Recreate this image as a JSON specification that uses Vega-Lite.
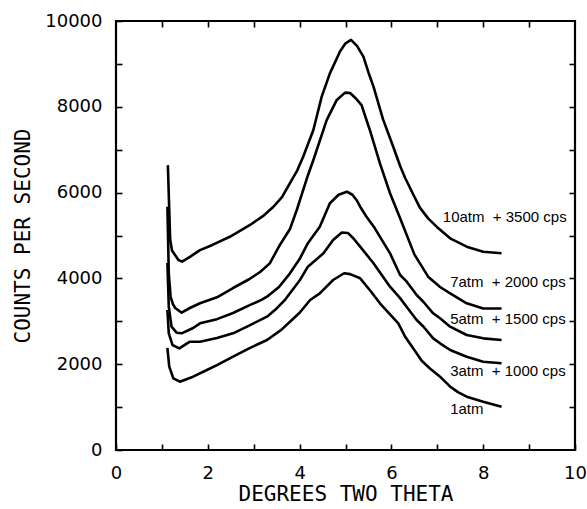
{
  "$schema": "https://vega.github.io/schema/vega-lite/v6.json",
  "width": 459,
  "height": 429,
  "autosize": {"type": "none"},
  "padding": {"left": 116, "top": 21, "right": 12, "bottom": 59},
  "background": "white",
  "config": {
    "view": {"stroke": "#000000", "strokeWidth": 2.2},
    "axis": {
      "grid": false,
      "domain": false,
      "ticks": true,
      "tickColor": "#000000",
      "tickWidth": 1.6,
      "tickSize": -6,
      "labelFont": "DejaVu Sans",
      "labelFontSize": 18,
      "labelColor": "black",
      "titleFont": "DejaVu Sans Mono",
      "titleFontSize": 21,
      "titleFontWeight": "normal",
      "titleColor": "black"
    }
  },
  "datasets": {
    "curves": [
      {"s": "10atm", "x": 1.13, "y": 6640}, {"s": "10atm", "x": 1.16, "y": 5600}, {"s": "10atm", "x": 1.18, "y": 4900}, {"s": "10atm", "x": 1.22, "y": 4650}, {"s": "10atm", "x": 1.29, "y": 4540}, {"s": "10atm", "x": 1.36, "y": 4430}, {"s": "10atm", "x": 1.44, "y": 4390}, {"s": "10atm", "x": 1.61, "y": 4500}, {"s": "10atm", "x": 1.83, "y": 4660}, {"s": "10atm", "x": 2.1, "y": 4780}, {"s": "10atm", "x": 2.48, "y": 4970}, {"s": "10atm", "x": 2.92, "y": 5245}, {"s": "10atm", "x": 3.2, "y": 5450}, {"s": "10atm", "x": 3.43, "y": 5670}, {"s": "10atm", "x": 3.62, "y": 5900}, {"s": "10atm", "x": 3.79, "y": 6220}, {"s": "10atm", "x": 3.95, "y": 6520}, {"s": "10atm", "x": 4.08, "y": 6840}, {"s": "10atm", "x": 4.3, "y": 7460}, {"s": "10atm", "x": 4.48, "y": 8230}, {"s": "10atm", "x": 4.66, "y": 8780}, {"s": "10atm", "x": 4.88, "y": 9290}, {"s": "10atm", "x": 5.0, "y": 9480}, {"s": "10atm", "x": 5.12, "y": 9560}, {"s": "10atm", "x": 5.25, "y": 9420}, {"s": "10atm", "x": 5.39, "y": 9170}, {"s": "10atm", "x": 5.5, "y": 8800}, {"s": "10atm", "x": 5.61, "y": 8470}, {"s": "10atm", "x": 5.82, "y": 7700}, {"s": "10atm", "x": 6.04, "y": 7070}, {"s": "10atm", "x": 6.19, "y": 6620}, {"s": "10atm", "x": 6.3, "y": 6340}, {"s": "10atm", "x": 6.48, "y": 5950}, {"s": "10atm", "x": 6.62, "y": 5650}, {"s": "10atm", "x": 6.8, "y": 5400}, {"s": "10atm", "x": 6.99, "y": 5200}, {"s": "10atm", "x": 7.28, "y": 4935}, {"s": "10atm", "x": 7.64, "y": 4740}, {"s": "10atm", "x": 8.0, "y": 4620}, {"s": "10atm", "x": 8.4, "y": 4585},
      {"s": "7atm", "x": 1.12, "y": 5670}, {"s": "7atm", "x": 1.15, "y": 4120}, {"s": "7atm", "x": 1.19, "y": 3570}, {"s": "7atm", "x": 1.24, "y": 3400}, {"s": "7atm", "x": 1.29, "y": 3310}, {"s": "7atm", "x": 1.43, "y": 3200}, {"s": "7atm", "x": 1.61, "y": 3310}, {"s": "7atm", "x": 1.83, "y": 3420}, {"s": "7atm", "x": 2.2, "y": 3560}, {"s": "7atm", "x": 2.55, "y": 3776}, {"s": "7atm", "x": 2.9, "y": 3980}, {"s": "7atm", "x": 3.14, "y": 4150}, {"s": "7atm", "x": 3.35, "y": 4350}, {"s": "7atm", "x": 3.57, "y": 4780}, {"s": "7atm", "x": 3.79, "y": 5150}, {"s": "7atm", "x": 3.94, "y": 5600}, {"s": "7atm", "x": 4.18, "y": 6400}, {"s": "7atm", "x": 4.3, "y": 6760}, {"s": "7atm", "x": 4.59, "y": 7690}, {"s": "7atm", "x": 4.81, "y": 8160}, {"s": "7atm", "x": 4.99, "y": 8330}, {"s": "7atm", "x": 5.1, "y": 8320}, {"s": "7atm", "x": 5.22, "y": 8200}, {"s": "7atm", "x": 5.35, "y": 8040}, {"s": "7atm", "x": 5.53, "y": 7460}, {"s": "7atm", "x": 5.75, "y": 6680}, {"s": "7atm", "x": 5.97, "y": 5984}, {"s": "7atm", "x": 6.19, "y": 5400}, {"s": "7atm", "x": 6.5, "y": 4560}, {"s": "7atm", "x": 6.8, "y": 4040}, {"s": "7atm", "x": 7.06, "y": 3800}, {"s": "7atm", "x": 7.28, "y": 3650}, {"s": "7atm", "x": 7.64, "y": 3420}, {"s": "7atm", "x": 8.0, "y": 3300}, {"s": "7atm", "x": 8.4, "y": 3300},
      {"s": "5atm", "x": 1.12, "y": 4360}, {"s": "5atm", "x": 1.15, "y": 3340}, {"s": "5atm", "x": 1.21, "y": 2875}, {"s": "5atm", "x": 1.32, "y": 2735}, {"s": "5atm", "x": 1.43, "y": 2720}, {"s": "5atm", "x": 1.68, "y": 2844}, {"s": "5atm", "x": 1.83, "y": 2953}, {"s": "5atm", "x": 2.2, "y": 3050}, {"s": "5atm", "x": 2.55, "y": 3193}, {"s": "5atm", "x": 2.9, "y": 3370}, {"s": "5atm", "x": 3.17, "y": 3500}, {"s": "5atm", "x": 3.29, "y": 3574}, {"s": "5atm", "x": 3.55, "y": 3800}, {"s": "5atm", "x": 3.79, "y": 4118}, {"s": "5atm", "x": 4.0, "y": 4450}, {"s": "5atm", "x": 4.18, "y": 4821}, {"s": "5atm", "x": 4.44, "y": 5205}, {"s": "5atm", "x": 4.66, "y": 5751}, {"s": "5atm", "x": 4.85, "y": 5950}, {"s": "5atm", "x": 5.03, "y": 6021}, {"s": "5atm", "x": 5.15, "y": 5950}, {"s": "5atm", "x": 5.24, "y": 5828}, {"s": "5atm", "x": 5.32, "y": 5671}, {"s": "5atm", "x": 5.45, "y": 5450}, {"s": "5atm", "x": 5.62, "y": 5200}, {"s": "5atm", "x": 5.97, "y": 4585}, {"s": "5atm", "x": 6.19, "y": 4079}, {"s": "5atm", "x": 6.33, "y": 3930}, {"s": "5atm", "x": 6.55, "y": 3613}, {"s": "5atm", "x": 6.7, "y": 3450}, {"s": "5atm", "x": 6.91, "y": 3186}, {"s": "5atm", "x": 7.06, "y": 3070}, {"s": "5atm", "x": 7.28, "y": 2875}, {"s": "5atm", "x": 7.64, "y": 2681}, {"s": "5atm", "x": 8.0, "y": 2603}, {"s": "5atm", "x": 8.4, "y": 2564},
      {"s": "3atm", "x": 1.12, "y": 3263}, {"s": "3atm", "x": 1.15, "y": 2720}, {"s": "3atm", "x": 1.23, "y": 2448}, {"s": "3atm", "x": 1.38, "y": 2370}, {"s": "3atm", "x": 1.61, "y": 2525}, {"s": "3atm", "x": 1.83, "y": 2525}, {"s": "3atm", "x": 2.2, "y": 2610}, {"s": "3atm", "x": 2.55, "y": 2720}, {"s": "3atm", "x": 2.9, "y": 2900}, {"s": "3atm", "x": 3.29, "y": 3108}, {"s": "3atm", "x": 3.5, "y": 3300}, {"s": "3atm", "x": 3.68, "y": 3497}, {"s": "3atm", "x": 3.79, "y": 3652}, {"s": "3atm", "x": 4.0, "y": 3950}, {"s": "3atm", "x": 4.18, "y": 4274}, {"s": "3atm", "x": 4.52, "y": 4585}, {"s": "3atm", "x": 4.73, "y": 4895}, {"s": "3atm", "x": 4.92, "y": 5070}, {"s": "3atm", "x": 5.05, "y": 5060}, {"s": "3atm", "x": 5.17, "y": 4935}, {"s": "3atm", "x": 5.35, "y": 4700}, {"s": "3atm", "x": 5.61, "y": 4352}, {"s": "3atm", "x": 5.97, "y": 3807}, {"s": "3atm", "x": 6.19, "y": 3540}, {"s": "3atm", "x": 6.33, "y": 3340}, {"s": "3atm", "x": 6.55, "y": 3030}, {"s": "3atm", "x": 6.7, "y": 2874}, {"s": "3atm", "x": 6.91, "y": 2603}, {"s": "3atm", "x": 7.06, "y": 2487}, {"s": "3atm", "x": 7.28, "y": 2331}, {"s": "3atm", "x": 7.64, "y": 2175}, {"s": "3atm", "x": 8.0, "y": 2058}, {"s": "3atm", "x": 8.4, "y": 2021},
      {"s": "1atm", "x": 1.12, "y": 2378}, {"s": "1atm", "x": 1.16, "y": 1942}, {"s": "1atm", "x": 1.25, "y": 1671}, {"s": "1atm", "x": 1.39, "y": 1593}, {"s": "1atm", "x": 1.68, "y": 1709}, {"s": "1atm", "x": 1.98, "y": 1865}, {"s": "1atm", "x": 2.2, "y": 1980}, {"s": "1atm", "x": 2.55, "y": 2176}, {"s": "1atm", "x": 2.9, "y": 2370}, {"s": "1atm", "x": 3.29, "y": 2564}, {"s": "1atm", "x": 3.6, "y": 2800}, {"s": "1atm", "x": 3.79, "y": 2991}, {"s": "1atm", "x": 4.0, "y": 3200}, {"s": "1atm", "x": 4.23, "y": 3497}, {"s": "1atm", "x": 4.44, "y": 3652}, {"s": "1atm", "x": 4.73, "y": 3963}, {"s": "1atm", "x": 4.97, "y": 4120}, {"s": "1atm", "x": 5.1, "y": 4100}, {"s": "1atm", "x": 5.32, "y": 4002}, {"s": "1atm", "x": 5.55, "y": 3700}, {"s": "1atm", "x": 5.75, "y": 3419}, {"s": "1atm", "x": 6.15, "y": 2953}, {"s": "1atm", "x": 6.3, "y": 2640}, {"s": "1atm", "x": 6.5, "y": 2331}, {"s": "1atm", "x": 6.66, "y": 2080}, {"s": "1atm", "x": 6.84, "y": 1900}, {"s": "1atm", "x": 7.06, "y": 1709}, {"s": "1atm", "x": 7.28, "y": 1476}, {"s": "1atm", "x": 7.45, "y": 1350}, {"s": "1atm", "x": 7.64, "y": 1243}, {"s": "1atm", "x": 8.0, "y": 1126}, {"s": "1atm", "x": 8.4, "y": 1009}
    ],
    "labels": [
      {"x": 7.12, "y": 5438, "t": "10atm\u00a0 + 3500 cps"},
      {"x": 7.28, "y": 3923, "t": "7atm\u00a0 + 2000 cps"},
      {"x": 7.28, "y": 3046, "t": "5atm\u00a0 + 1500 cps"},
      {"x": 7.28, "y": 1849, "t": "3atm\u00a0 + 1000 cps"},
      {"x": 7.28, "y": 948, "t": "1atm"}
    ]
  },
  "layer": [
    {
      "data": {"name": "curves"},
      "mark": {"type": "line", "stroke": "black", "strokeWidth": 2.6, "strokeJoin": "round"},
      "encoding": {
        "x": {
          "field": "x", "type": "quantitative",
          "scale": {"domain": [0, 10], "nice": false},
          "axis": {
            "orient": "bottom",
            "values": [0, 1, 2, 3, 4, 5, 6, 7, 8, 9, 10],
            "labelExpr": "datum.value % 2 == 0 ? datum.label : ''",
            "labelPadding": 20,
            "labelFlush": false,
            "title": "DEGREES TWO THETA",
            "titleX": 229.5,
            "titleY": 44,
            "titleBaseline": "middle",
            "titleAlign": "center"
          }
        },
        "y": {
          "field": "y", "type": "quantitative",
          "scale": {"domain": [0, 10000], "nice": false},
          "axis": {
            "orient": "left",
            "values": [0, 1000, 2000, 3000, 4000, 5000, 6000, 7000, 8000, 9000, 10000],
            "format": "d",
            "labelExpr": "datum.value % 2000 == 0 ? datum.label : ''",
            "labelPadding": 20,
            "labelFlush": false,
            "title": "COUNTS PER SECOND",
            "titleAngle": -90,
            "titleX": -93,
            "titleY": 214.5,
            "titleBaseline": "middle",
            "titleAlign": "center"
          }
        },
        "detail": {"field": "s"}
      }
    },
    {
      "data": {"name": "labels"},
      "mark": {"type": "text", "align": "left", "baseline": "middle", "font": "Liberation Sans", "fontSize": 15, "color": "black"},
      "encoding": {
        "x": {
          "field": "x", "type": "quantitative",
          "axis": {"orient": "top", "labels": false, "title": null, "values": [1, 2, 3, 4, 5, 6, 7, 8, 9]}
        },
        "y": {
          "field": "y", "type": "quantitative",
          "axis": {"orient": "right", "labels": false, "title": null, "values": [1000, 2000, 3000, 4000, 5000, 6000, 7000, 8000, 9000]}
        },
        "text": {"field": "t"}
      }
    }
  ],
  "resolve": {"axis": {"x": "independent", "y": "independent"}}
}
